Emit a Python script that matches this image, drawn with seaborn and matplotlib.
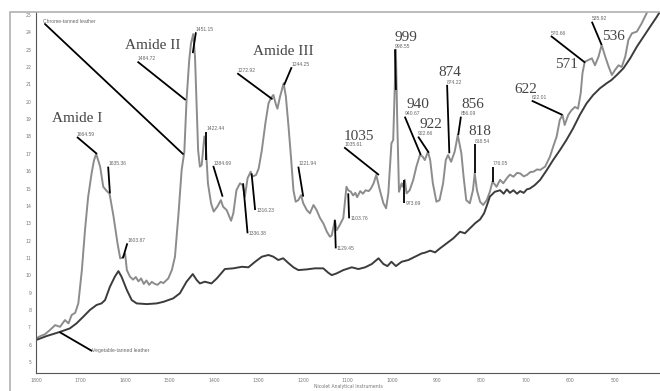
import numpy as np
import pandas as pd
import matplotlib
matplotlib.use("Agg")
import matplotlib.pyplot as plt
from matplotlib.patches import Rectangle
from matplotlib.ticker import MultipleLocator
import seaborn as sns

# ---------------- data (wavenumber cm-1, absorbance-like units) ----------------
chrome_wn = [1800, 1790, 1780, 1769, 1757, 1746, 1735, 1727, 1720, 1712, 1705, 1697, 1690, 1683, 1675,
             1670, 1665, 1656, 1649, 1641, 1635, 1626, 1617, 1611, 1607, 1604, 1600, 1596, 1589, 1582,
             1576, 1570, 1564, 1558, 1552, 1546, 1540, 1533, 1527, 1520, 1514, 1508, 1503, 1495, 1488,
             1480, 1473, 1467, 1462, 1456, 1452, 1447, 1443, 1439, 1436, 1432, 1428, 1422, 1419, 1414,
             1407, 1401, 1393, 1385, 1380, 1372, 1362, 1357, 1350, 1342, 1336, 1331, 1325, 1318, 1315,
             1306, 1300, 1293, 1285, 1278, 1273, 1267, 1262, 1258, 1252, 1244, 1239, 1233, 1227, 1222,
             1217, 1211, 1205, 1200, 1192, 1185, 1177, 1170, 1162, 1155, 1147, 1140, 1136, 1129, 1125,
             1120, 1116, 1110, 1106, 1103, 1099, 1093, 1088, 1083, 1079, 1072, 1066, 1060, 1053, 1048,
             1042, 1036, 1028, 1020, 1014, 1009, 1002, 998, 995, 992, 989, 985, 979, 976, 972,
             968, 961, 953, 946, 938, 932, 927, 920, 915, 909, 901, 894, 886, 880, 875,
             868, 860, 853, 845, 840, 834, 826, 819, 815, 810, 803, 796, 788, 781, 775,
             766, 758, 751, 743, 736, 728, 720, 713, 705, 698, 690, 683, 675, 668, 657,
             646, 639, 631, 624, 618, 613, 605, 598, 590, 583, 577, 573, 568, 560, 552,
             545, 537, 530, 522, 514, 507, 500, 492, 485, 477, 470, 462, 451, 440, 429, 420]
chrome_abs = [6.36, 6.5, 6.6, 6.84, 7.13, 7.03, 7.42, 7.23, 7.71, 7.84, 8.38, 10.3, 12.6, 14.5, 15.9,
              16.6, 17.0, 16.26, 15.1, 14.85, 14.72, 13.4, 11.84, 10.98, 11.0, 11.07, 11.26, 10.3, 9.92, 9.75,
              9.9, 9.65, 9.82, 9.5, 9.7, 9.45, 9.62, 9.5, 9.45, 9.62, 9.55, 9.7, 9.82, 10.3, 11.07,
              13.57, 16.07, 17.1, 20.1, 22.4, 23.37, 23.9, 22.6, 19.5, 17.2, 16.26, 16.35, 18.0, 17.6, 15.3,
              14.15, 13.67, 13.95, 14.33, 13.95, 13.76, 13.14, 13.57, 14.9, 15.3, 15.2, 14.53, 15.59, 15.97, 15.68,
              15.78, 16.16, 17.2, 18.76, 19.9, 20.2, 20.39, 19.9, 19.6, 20.3, 21.06, 20.3, 18.56, 16.64, 14.9,
              14.24, 14.33, 14.62, 14.15, 13.76, 13.57, 14.05, 13.76, 13.28, 13.0, 12.51, 12.22, 12.3, 13.18, 12.6,
              12.8, 13.0, 13.3, 14.33, 15.1, 14.9, 14.81, 14.6, 14.75, 14.5, 14.85, 14.7, 14.9, 14.85, 15.0,
              15.3, 15.78, 14.9, 14.15, 13.86, 14.72, 17.6, 17.8, 20.5, 23.0, 18.95, 14.81, 15.3, 15.1, 15.5,
              14.72, 14.9, 15.5, 16.26, 16.93, 16.84, 16.64, 17.12, 16.64, 15.3, 14.24, 14.33, 15.3, 16.64, 16.93,
              16.54, 17.12, 18.08, 17.03, 15.68, 14.33, 14.15, 14.9, 15.87, 14.9, 14.24, 14.05, 14.33, 14.81, 15.4,
              15.1, 15.5, 15.3, 15.59, 15.8, 15.68, 15.9, 15.87, 15.7, 15.78, 15.95, 15.97, 16.1, 16.07, 16.26,
              16.84, 17.4, 18.0, 18.95, 19.24, 18.66, 19.24, 19.5, 19.7, 19.6, 20.5, 21.65, 22.3, 22.4, 22.5,
              22.1, 22.6, 23.27, 22.6, 22.0, 21.54, 21.83, 22.1, 22.0, 22.6, 23.56, 23.94, 24.04, 24.52, 25.1, 25.6]

veg_wn = [1800, 1776, 1746, 1724, 1709, 1694, 1679, 1664, 1653, 1645, 1634, 1623, 1615, 1608, 1596,
          1585, 1574, 1551, 1529, 1514, 1492, 1477, 1462, 1448, 1439, 1432, 1421, 1406, 1394, 1376,
          1357, 1338, 1323, 1308, 1293, 1278, 1267, 1256, 1245, 1234, 1222, 1211, 1192, 1174, 1155,
          1144, 1136, 1125, 1110, 1091, 1076, 1061, 1046, 1031, 1020, 1011, 1002, 992, 979, 964,
          949, 934, 927, 915, 904, 893, 878, 863, 848, 837, 826, 814, 803, 794, 788,
          781, 770, 758, 750, 743, 736, 728, 720, 713, 705, 698, 691, 680, 668, 653,
          639, 624, 609, 594, 579, 564, 549, 534, 519, 508, 496, 481, 466, 451, 436,
          421, 406, 399]
veg_abs = [6.27, 6.5, 6.74, 6.94, 7.23, 7.61, 8.0, 8.29, 8.38, 8.57, 9.34, 9.92, 10.24, 9.92, 9.15,
           8.57, 8.38, 8.34, 8.38, 8.47, 8.67, 8.96, 9.63, 10.07, 9.72, 9.53, 9.63, 9.53, 9.82, 10.36,
           10.4, 10.49, 10.46, 10.78, 11.07, 11.17, 11.07, 10.88, 10.98, 10.72, 10.46, 10.3, 10.34, 10.4, 10.4,
           10.15, 10.01, 10.11, 10.3, 10.46, 10.36, 10.46, 10.65, 10.98, 10.65, 10.53, 10.78, 10.53, 10.78, 10.88,
           11.07, 11.26, 11.3, 11.42, 11.32, 11.55, 11.84, 12.13, 12.51, 12.42, 12.7, 13.0, 13.22, 13.57, 14.0,
           14.53, 14.81, 14.9, 14.7, 14.95, 14.75, 14.9, 14.7, 14.85, 14.75, 14.95, 15.0, 15.2, 15.5, 16.07,
           16.64, 17.2, 17.8, 18.47, 19.24, 19.9, 20.39, 20.77, 21.06, 21.25, 21.54, 21.93, 22.5, 23.17, 23.75,
           24.33, 24.9, 25.2]

series_names = ["Chrome-tanned leather", "Vegetable-tanned leather"]

# band names (large serif) and peak labels (small)
band_text = ["Amide I", "Amide II", "Amide III", "1035", "999", "940", "922", "874", "856", "818",
             "622", "571", "536"]
band_xy = [(1764, 18.85), (1600, 23.05), (1313, 22.68), (1110, 17.82), (994, 23.5), (968, 19.62),
           (939, 18.47), (897, 21.47), (846, 19.66), (829, 18.1), (725, 20.5), (635, 21.95), (528, 23.55)]

peak_text = ["1664.59", "1635.36", "1603.87", "1484.72", "1451.15", "1422.44", "1384.69", "1336.38",
             "1316.23", "1272.92", "1244.25", "1221.94", "1129.45", "1103.76", "1035.61", "998.55",
             "973.69", "940.67", "922.66", "874.22", "856.09", "818.54", "776.05", "622.01", "570.66",
             "535.92"]
# leader line start (at text) and end (at curve)
peak_from = [(1708, 17.97), (1638, 16.26), (1595, 11.84), (1572, 22.31), (1441, 24.0), (1418, 18.27),
             (1402, 16.3), (1335, 15.3), (1316, 15.87), (1348, 21.64), (1226, 21.99), (1211, 16.26),
             (1129, 13.18), (1099, 14.72), (1108, 17.37), (994, 23.02), (973, 15.49), (972, 19.14),
             (942, 17.99), (877, 20.97), (846, 19.14), (814, 17.56), (775, 16.26), (687, 20.06),
             (644, 23.79), (552, 24.61)]
peak_to = [(1663, 16.99), (1634, 14.72), (1605, 10.98), (1464, 20.1), (1448, 22.8), (1418, 16.64),
           (1381, 14.53), (1325, 12.42), (1308, 13.76), (1269, 20.14), (1243, 20.96), (1200, 14.53),
           (1127, 11.55), (1097, 13.28), (1030, 15.78), (992, 20.68), (973, 14.15), (936, 16.93),
           (918, 17.06), (872, 17.03), (852, 18.08), (814, 15.88), (775, 15.39), (618, 19.24),
           (567, 22.25), (530, 23.27)]
# text anchors: text placed at 'from' end except these, placed at 'to' end
peak_text_at_end = {"1336.38", "1316.23", "1129.45", "1103.76", "973.69"}

# ---------------- figure ----------------
sns.set_style("white")
W, H = 660, 391
fig = plt.figure(figsize=(W / 100, H / 100), dpi=100)
ax = fig.add_axes([36 / W, 18 / H, 624 / W, 361 / H])

df = pd.concat([
    pd.DataFrame({"wn": chrome_wn, "abs": chrome_abs, "sample": series_names[0]}),
    pd.DataFrame({"wn": veg_wn, "abs": veg_abs, "sample": series_names[1]}),
])
sns.lineplot(data=df, x="wn", y="abs", hue="sample",
             palette={series_names[0]: "#8c8c8c", series_names[1]: "#3c3c3c"},
             estimator=None, sort=False, linewidth=1.4, legend=False, ax=ax)

ax.set_xlim(1800, 399)
ax.set_ylim(4.37, 25.17)
ax.xaxis.set_minor_locator(MultipleLocator(20))
ax.yaxis.set_minor_locator(MultipleLocator(0.2))
ax.set_yticks(np.arange(5, 26, 1))
ax.set_xticks(np.arange(1800, 499, -100))
ax.tick_params(axis="both", which="major", direction="inout", length=4, width=0.9,
               color="#333333", labelsize=3.3, labelcolor="#777777", pad=1.5)
ax.tick_params(axis="both", which="minor", direction="inout", length=2.2, width=0.9,
               color="#333333")
for s in ["top", "right"]:
    ax.spines[s].set_visible(False)
for s in ["left", "bottom"]:
    ax.spines[s].set_color("#555555")
    ax.spines[s].set_linewidth(0.8)
ax.set_xlabel("Nicolet Analytical Instruments", fontsize=3.3, color="#777777", labelpad=1)
ax.set_ylabel("")

# outer frame (light gray box)
fig.add_artist(Rectangle((10 / W, -0.05), 1.2, 1 - 12 / H + 0.05, transform=fig.transFigure,
                         fill=False, edgecolor="#b0b0b0", linewidth=1.2))

# series name labels with leaders
ax.plot([1780, 1470], [24.48, 16.99], color="black", lw=1.3)
ax.text(1784, 24.62, series_names[0], fontsize=3.6, color="#666666",
        family="Liberation Sans", ha="left", va="center")
ax.plot([1746, 1675], [6.71, 5.65], color="black", lw=1.3)
ax.text(1675, 5.65, series_names[1], fontsize=3.6, color="#666666",
        family="Liberation Sans", ha="left", va="center")

# band names
for t, (x, y) in zip(band_text, band_xy):
    ax.text(x, y, t, fontsize=11, color="#444444", family="Liberation Serif",
            ha="left", va="baseline")

# peak labels with leader lines
for t, p0, p1 in zip(peak_text, peak_from, peak_to):
    ax.plot([p0[0], p1[0]], [p0[1], p1[1]], color="black", lw=1.3, solid_capstyle="butt")
    if t in peak_text_at_end:
        ax.text(p1[0] - 3, p1[1], t, fontsize=3.6, color="#666666",
                family="Liberation Sans", ha="left", va="center")
    else:
        ax.text(p0[0], p0[1] + 0.02, t, fontsize=3.6, color="#666666",
                family="Liberation Sans", ha="left", va="bottom")

fig.savefig("out.png", dpi=100)
